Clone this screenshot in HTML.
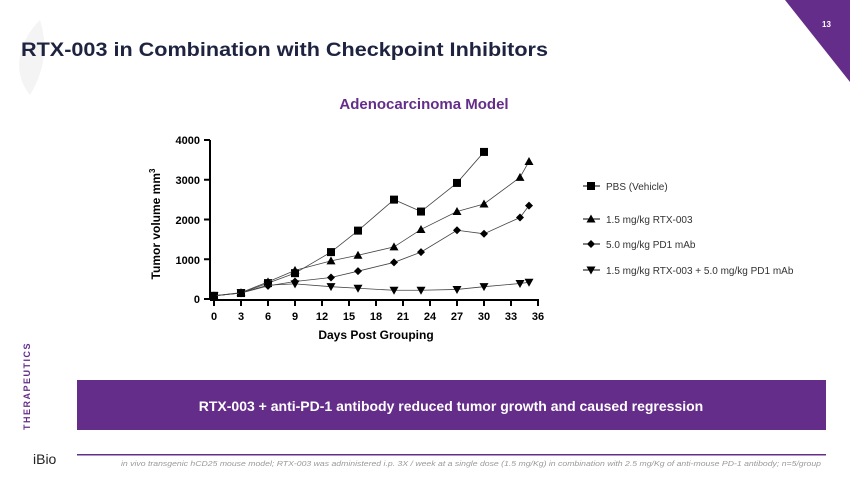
<!DOCTYPE html>
<html><head><meta charset="utf-8"><style>
body{margin:0;width:850px;height:478px;overflow:hidden;background:#fff;font-family:"Liberation Sans",sans-serif;position:relative}
.abs{position:absolute}
</style></head><body>
<svg class="abs" style="left:0;top:0" width="850" height="478">
<polygon points="785,0 850,0 850,82" fill="#652d8a"/>
<text x="822" y="27" font-size="8" fill="#fff" font-weight="bold" font-family="Liberation Sans">13</text>
<path d="M40,20 C20,40 10,70 30,95 C45,70 48,45 40,20Z" fill="#f4f4f4"/>
<text x="21" y="56" font-size="19" font-weight="bold" fill="#1e2340" font-family="Liberation Sans" textLength="527" lengthAdjust="spacingAndGlyphs">RTX-003 in Combination with Checkpoint Inhibitors</text>
<text x="424" y="109" font-size="15" font-weight="bold" fill="#652d8a" text-anchor="middle" font-family="Liberation Sans">Adenocarcinoma Model</text>
<g id="chart" stroke="#000" fill="none"></g>
<g font-size="11" font-weight="bold" font-family="Liberation Sans" fill="#000" text-anchor="end">
<text x="200" y="144">4000</text><text x="200" y="184">3000</text><text x="200" y="224">2000</text><text x="200" y="264">1000</text><text x="200" y="303">0</text>
</g>
<g font-size="11" font-weight="bold" font-family="Liberation Sans" fill="#000" text-anchor="middle">
<text x="214" y="320">0</text><text x="241" y="320">3</text><text x="268" y="320">6</text><text x="295" y="320">9</text><text x="322" y="320">12</text><text x="349" y="320">15</text><text x="376" y="320">18</text><text x="403" y="320">21</text><text x="430" y="320">24</text><text x="457" y="320">27</text><text x="484" y="320">30</text><text x="511" y="320">33</text><text x="538" y="320">36</text>
<text x="376" y="339" font-size="12">Days Post Grouping</text>
</g>
<text transform="translate(160,224) rotate(-90)" font-size="12" font-weight="bold" text-anchor="middle" font-family="Liberation Sans">Tumor volume mm<tspan font-size="8" dy="-5">3</tspan></text>
<g font-size="10" fill="#333" font-family="Liberation Sans">
<text x="606" y="190">PBS (Vehicle)</text>
<text x="606" y="223">1.5 mg/kg RTX-003</text>
<text x="606" y="248">5.0 mg/kg PD1 mAb</text>
<text x="606" y="274">1.5 mg/kg RTX-003 + 5.0 mg/kg PD1 mAb</text>
</g>
<g id="leg" stroke="#000"></g>
<text transform="translate(30,430) rotate(-90)" font-size="9" fill="#652d8a" font-weight="bold" letter-spacing="1.5" font-family="Liberation Sans">THERAPEUTICS</text>
<rect x="77" y="380" width="749" height="50" fill="#652d8a"/>
<text x="451" y="411" font-size="14" font-weight="bold" fill="#fff" text-anchor="middle" font-family="Liberation Sans">RTX-003 + anti-PD-1 antibody reduced tumor growth and caused regression</text>
<rect x="77" y="454" width="749" height="1.5" fill="#652d8a"/>
<text x="33" y="464" font-size="14" fill="#222" font-family="Liberation Sans">iBio</text>
<text x="821" y="466" font-size="7" font-style="italic" fill="#999" text-anchor="end" font-family="Liberation Sans" textLength="700" lengthAdjust="spacingAndGlyphs">in vivo transgenic hCD25 mouse model; RTX-003 was administered i.p. 3X / week at a single dose (1.5 mg/Kg) in combination with 2.5 mg/Kg of anti-mouse PD-1 antibody; n=5/group</text>
</svg>
<script>
var ns="http://www.w3.org/2000/svg",g=document.getElementById("chart");
function el(t,a,p){var e=document.createElementNS(ns,t);for(var k in a)e.setAttribute(k,a[k]);(p||g).appendChild(e);return e;}
function X(d){return 214+9*d}function Y(v){return 299-0.03975*v}
el("line",{x1:210,y1:140,x2:210,y2:300,"stroke-width":2});
el("line",{x1:210,y1:300,x2:539,y2:300,"stroke-width":2});
[0,1000,2000,3000,4000].forEach(function(v){el("line",{x1:204,x2:210,y1:Y(v),y2:Y(v),"stroke-width":2})});
for(var d=0;d<=36;d+=3)el("line",{x1:X(d),x2:X(d),y1:300,y2:306,"stroke-width":2});
function mk(t,x,y,p){p=p||g;
 if(t==0)el("rect",{x:x-4,y:y-4,width:8,height:8,fill:"#000",stroke:"none"},p);
 if(t==1)el("polygon",{points:(x-4.5)+","+(y+3.5)+" "+(x+4.5)+","+(y+3.5)+" "+x+","+(y-4.5),fill:"#000",stroke:"none"},p);
 if(t==2)el("polygon",{points:x+","+(y-4)+" "+(x+4)+","+y+" "+x+","+(y+4)+" "+(x-4)+","+y,fill:"#000",stroke:"none"},p);
 if(t==3)el("polygon",{points:(x-4.5)+","+(y-3.5)+" "+(x+4.5)+","+(y-3.5)+" "+x+","+(y+4.5),fill:"#000",stroke:"none"},p);}
var S=[
[[0,80],[3,150],[6,400],[9,650],[13,1180],[16,1720],[20,2500],[23,2200],[27,2920],[30,3700]],
[[0,80],[3,160],[6,430],[9,720],[13,960],[16,1100],[20,1310],[23,1750],[27,2200],[30,2390],[34,3060],[35,3460]],
[[0,80],[3,150],[6,330],[9,440],[13,540],[16,700],[20,920],[23,1180],[27,1730],[30,1640],[34,2050],[35,2350]],
[[0,80],[3,150],[6,350],[9,380],[13,310],[16,270],[20,220],[23,220],[27,240],[30,310],[34,390],[35,420]]];
S.forEach(function(s,i){el("polyline",{points:s.map(function(p){return X(p[0])+","+Y(p[1])}).join(" "),"stroke-width":0.8,stroke:"#444"});
 s.forEach(function(p){mk(i,X(p[0]),Y(p[1]))});});
var L=document.getElementById("leg");[186,219,244,270].forEach(function(y,i){el("line",{x1:583,x2:600,y1:y,y2:y,"stroke-width":1},L);mk(i,591,y,L)});
</script>
</body></html>
